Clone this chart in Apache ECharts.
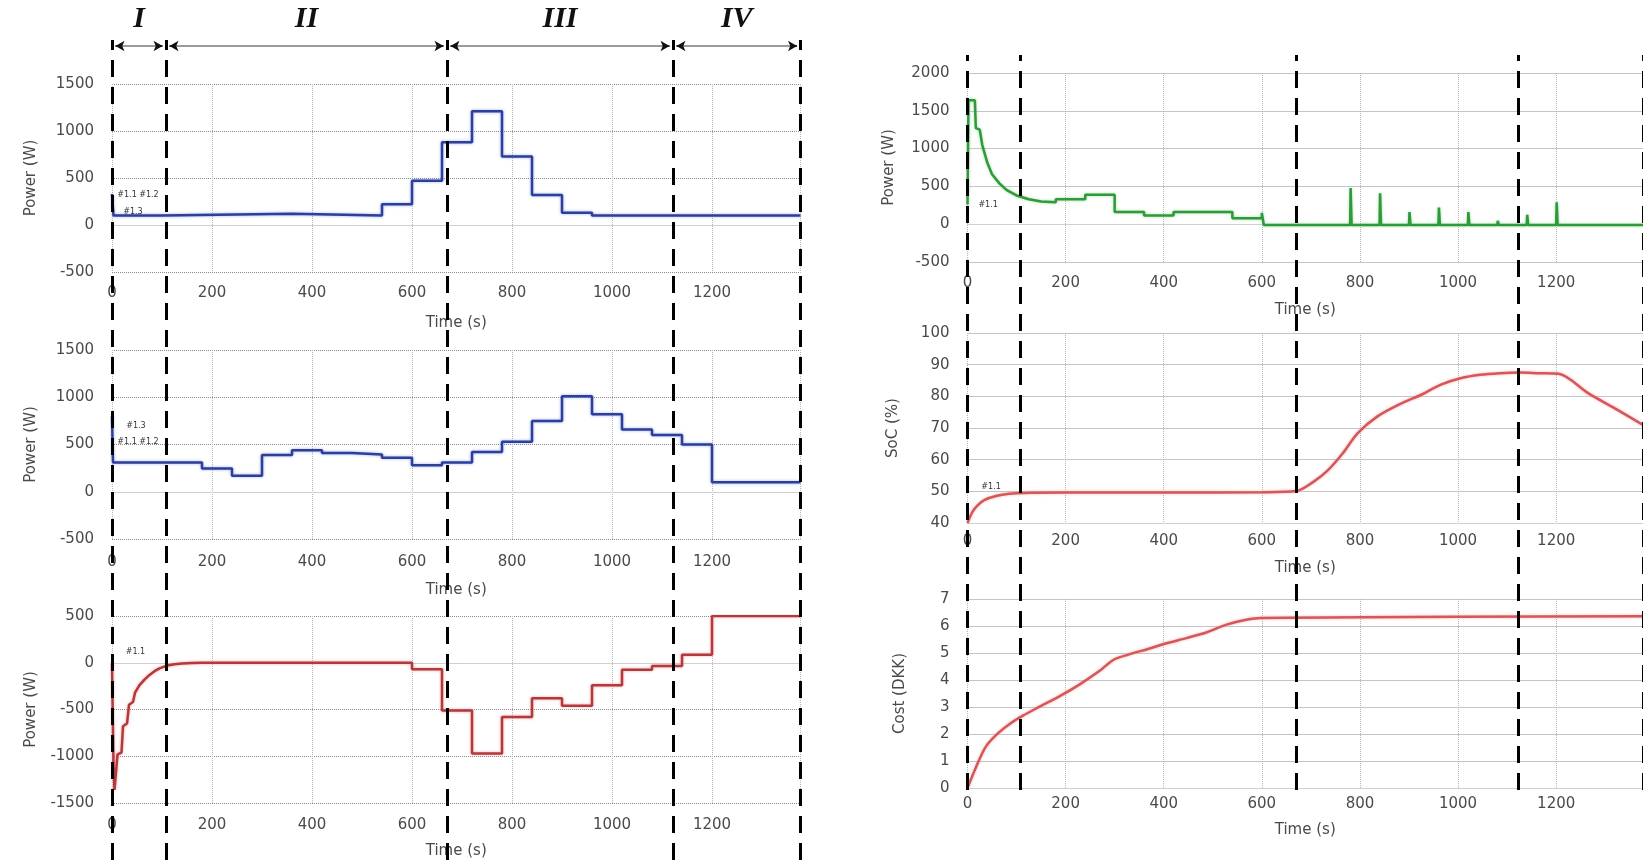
<!DOCTYPE html>
<html>
<head>
<meta charset="utf-8">
<script src="https://cdn.jsdelivr.net/npm/echarts@6/dist/echarts.min.js"></script>
<style>
html, body { margin: 0; padding: 0; background: #fff; }
#main { width: 1643px; height: 860px; }
</style>
</head>
<body>
<div id="main"></div>
<script>
var chart = echarts.init(document.getElementById('main'));

var T_MAX = 1377;
var phaseBounds = [0, 108, 670, 1122, 1377];
var phaseNames = ['I', 'II', 'III', 'IV'];

// power #1.3 (top left, blue, step)
var p13Time = [0, 3, 100, 360, 540, 600, 660, 720, 780, 840, 900, 960, 1377];
var p13Val  = [330, 100, 120, 100, 220, 470, 880, 1210, 730, 320, 130, 100, 100];

// power (middle left, blue, step)
var p2Time = [0, 2, 180, 240, 300, 360, 420, 480, 540, 600, 660, 720, 780, 840, 900, 960, 1020, 1080, 1140, 1200, 1377];
var p2Val  = [800, 310, 245, 170, 390, 440, 410, 395, 360, 280, 310, 420, 530, 750, 1010, 820, 660, 600, 500, 100, 100];

// power #1.1 (bottom left, red)
var p3Time = [0, 3, 5, 9, 11, 19, 22, 30, 34, 42, 46, 55, 65, 75, 85, 95, 110, 125, 140, 160, 180, 600, 600, 660, 660, 720, 720, 780, 780, 840, 840, 900, 900, 960, 960, 1020, 1020, 1080, 1080, 1140, 1140, 1200, 1200, 1377];
var p3Val  = [0, -1100, -1360, -1350, -980, -960, -680, -650, -450, -420, -320, -240, -180, -130, -90, -60, -30, -15, -8, -3, 0, 0, -70, -70, -510, -510, -970, -970, -580, -580, -380, -380, -460, -460, -240, -240, -75, -75, -35, -35, 85, 85, 500, 500];

// power #1.1 (top right, green)
var gTime = [0, 2, 15, 17, 25, 30, 40, 50, 65, 80, 100, 125, 150, 180, 180, 240, 240, 300, 300, 360, 360, 420, 420, 540, 540, 600, 600, 604,
             780, 781, 783, 840, 841, 843, 900, 901, 903, 960, 961, 963, 1020, 1021, 1023, 1080, 1081, 1083, 1140, 1141, 1143, 1200, 1201, 1203, 1377];
var gVal  = [260, 1640, 1640, 1270, 1250, 1050, 820, 660, 540, 450, 380, 330, 300, 290, 330, 330, 390, 390, 160, 160, 115, 115, 160, 160, 80, 80, 150, -10,
             -10, 480, -10, -10, 410, -10, -10, 160, -10, -10, 220, -10, -10, 160, -10, -10, 45, -10, -10, 125, -10, -10, 290, -10, -10];

// SoC (middle right)
var socTime = [0, 10, 20, 35, 60, 85, 115, 200, 400, 600, 670, 705, 735, 765, 795, 835, 885, 925, 965, 1005, 1045, 1085, 1125, 1165, 1205, 1265, 1325, 1377];
var socVal  = [40, 43.5, 45.5, 47.3, 48.6, 49.2, 49.5, 49.6, 49.6, 49.7, 50.1, 53, 56.7, 62, 68.3, 73.6, 77.8, 80.5, 83.7, 85.7, 86.8, 87.3, 87.5, 87.3, 87.1, 81, 75.7, 71];

// Cost (bottom right)
var costTime = [0, 18, 38, 63, 88, 113, 148, 188, 228, 268, 298, 328, 368, 408, 448, 488, 528, 568, 598, 800, 1000, 1377];
var costVal  = [0, 0.8, 1.55, 2.04, 2.4, 2.68, 3.02, 3.4, 3.83, 4.32, 4.75, 4.94, 5.15, 5.37, 5.56, 5.77, 6.05, 6.23, 6.3, 6.32, 6.34, 6.36];

function pairs(t, v) {
    return t.map(function (x, i) { return [x, v[i]]; });
}

var txt = '#4a4a4a';
var fontFam = 'DejaVu Sans';
var plain = function (v) { return String(v); };

var LEFT = 112, RIGHT = 967.5, W = 688.5;
var grids = [
    {left: LEFT, top: 84, width: W, height: 188},
    {left: LEFT, top: 350, width: W, height: 189},
    {left: LEFT, top: 616, width: W, height: 187},
    {left: RIGHT, top: 73, width: W, height: 189},
    {left: RIGHT, top: 333, width: W, height: 190},
    {left: RIGHT, top: 599, width: W, height: 189},
    {left: LEFT, top: 14, width: W, height: 32},
    {left: LEFT, top: 40, width: W, height: 820},
    {left: RIGHT, top: 55, width: W, height: 735}
];

function timeAxis(gi, margin, gap) {
    return {
        type: 'value', gridIndex: gi, min: 0, max: T_MAX, interval: 200,
        name: 'Time (s)', nameLocation: 'middle', nameGap: gap,
        nameTextStyle: {color: txt, fontSize: 15, fontFamily: fontFam},
        axisLabel: {showMaxLabel: false, margin: margin, color: txt, fontSize: 15, fontFamily: fontFam, formatter: plain},
        axisLine: {show: true, lineStyle: {color: '#d0d0d0'}},
        axisTick: {show: false},
        splitLine: {show: true, lineStyle: {type: 'dotted', color: '#b5b5b5'}}
    };
}

function valAxis(gi, min, max, interval, name, gap) {
    return {
        type: 'value', gridIndex: gi, min: min, max: max, interval: interval,
        name: name, nameLocation: 'middle', nameGap: gap,
        nameTextStyle: {color: txt, fontSize: 15, fontFamily: fontFam},
        axisLabel: {margin: 18, color: txt, fontSize: 15, fontFamily: fontFam, formatter: plain},
        axisLine: {show: false},
        axisTick: {show: false},
        splitLine: {show: true, lineStyle: {type: 'dotted', color: '#8a8a8a'}}
    };
}

function hiddenX(gi) {
    return {type: 'value', gridIndex: gi, min: 0, max: T_MAX, show: false};
}
function hiddenY(gi) {
    return {type: 'value', gridIndex: gi, min: 0, max: 1, show: false};
}

function note(t, v, text) {
    return {coord: [t, v], name: text};
}

function notes(list) {
    return {
        symbol: 'circle', symbolSize: 1,
        itemStyle: {color: 'rgba(0,0,0,0)'},
        label: {show: true, position: 'inside', formatter: '{b}', color: '#333', fontSize: 8, fontFamily: fontFam},
        data: list
    };
}

var blue = '#2f3f98';
var blueGlow = 'rgba(110,140,240,0.7)';
var darkRed = '#b23a3d';
var lightRed = '#d4575a';
var green = '#2f9a3a';

function lineSeries(gi, data, color, glow, extra) {
    var s = {
        type: 'line', xAxisIndex: gi, yAxisIndex: gi, data: data,
        showSymbol: false, silent: true,
        lineStyle: {color: color, width: 2.5, shadowColor: glow, shadowBlur: 3},
        z: 3
    };
    for (var k in extra) s[k] = extra[k];
    return s;
}

var segs = [];
var arrowHeads = [];
for (var i = 0; i < phaseNames.length; i++) {
    var a = phaseBounds[i] + 7, b = phaseBounds[i + 1] - 7;
    segs.push([{coord: [a, 0]}, {coord: [b, 0]}]);
    arrowHeads.push([{coord: [a + 10, 0]}, {coord: [a, 0]}]);
    arrowHeads.push([{coord: [b - 10, 0]}, {coord: [b, 0]}]);
}

var dashStyle = {color: '#000', width: 3, type: [17, 10]};

option = {
    backgroundColor: '#fff',
    animation: false,
    grid: grids,
    xAxis: [
        timeAxis(0, 14, 44), timeAxis(1, 16, 44), timeAxis(2, 15, 41),
        timeAxis(3, 14, 41), timeAxis(4, 11, 38), timeAxis(5, 9, 35),
        hiddenX(6), hiddenX(7), hiddenX(8)
    ],
    yAxis: [
        valAxis(0, -500, 1500, 500, 'Power (W)', 73),
        valAxis(1, -500, 1500, 500, 'Power (W)', 73),
        valAxis(2, -1500, 500, 500, 'Power (W)', 73),
        valAxis(3, -500, 2000, 500, 'Power (W)', 71),
        valAxis(4, 40, 100, 10, 'SoC (%)', 67),
        valAxis(5, 0, 7, 1, 'Cost (DKK)', 60),
        hiddenY(6), hiddenY(7), hiddenY(8)
    ],
    series: [
        lineSeries(0, pairs(p13Time, p13Val), blue, blueGlow, {
            step: 'end',
            markPoint: notes([note(52, 320, '#1.1 #1.2'), note(42, 135, '#1.3')])
        }),
        lineSeries(1, pairs(p2Time, p2Val), blue, blueGlow, {
            step: 'end',
            markPoint: notes([note(48, 700, '#1.3'), note(52, 525, '#1.1 #1.2')])
        }),
        lineSeries(2, pairs(p3Time, p3Val), darkRed, 'rgba(240,140,140,0.8)', {
            markPoint: notes([note(47, 115, '#1.1')])
        }),
        lineSeries(3, pairs(gTime, gVal), green, 'rgba(140,210,140,0.8)', {
            markPoint: notes([note(42, 255, '#1.1')])
        }),
        lineSeries(4, pairs(socTime, socVal), lightRed, 'rgba(245,160,160,0.8)', {
            smooth: 0.3,
            markPoint: notes([note(48, 51.5, '#1.1')])
        }),
        lineSeries(5, pairs(costTime, costVal), lightRed, 'rgba(245,160,160,0.8)', {
            smooth: 0.3
        }),
        {
            type: 'line', xAxisIndex: 6, yAxisIndex: 6, data: [], silent: true,
            markLine: {
                silent: true, symbol: ['none', 'none'], label: {show: false},
                lineStyle: {color: '#9a9a9a', width: 2, type: 'solid'},
                data: segs
            },
            markPoint: {
                symbol: 'circle', symbolSize: 1,
                itemStyle: {color: 'rgba(0,0,0,0)'},
                label: {
                    show: true, position: 'inside', formatter: '{b}', color: '#111',
                    fontFamily: 'Liberation Serif', fontStyle: 'italic', fontWeight: 'bold', fontSize: 30
                },
                data: phaseNames.map(function (n, i) {
                    return {coord: [(phaseBounds[i] + phaseBounds[i + 1]) / 2, 0.84], name: n};
                })
            }
        },
        {
            type: 'line', xAxisIndex: 6, yAxisIndex: 6, data: [], silent: true,
            markLine: {
                silent: true, symbol: ['none', 'arrow'], symbolSize: [8, 9], label: {show: false},
                lineStyle: {color: '#111', width: 1.5, type: 'solid'},
                data: arrowHeads
            }
        },
        {
            type: 'line', xAxisIndex: 7, yAxisIndex: 7, data: [], silent: true, z: 10,
            markLine: {
                silent: true, symbol: ['none', 'none'], label: {show: false},
                lineStyle: dashStyle,
                data: phaseBounds.map(function (b) { return {xAxis: b}; })
            }
        },
        {
            type: 'line', xAxisIndex: 8, yAxisIndex: 8, data: [], silent: true, z: 10,
            markLine: {
                silent: true, symbol: ['none', 'none'], label: {show: false},
                lineStyle: dashStyle,
                data: phaseBounds.map(function (b) { return {xAxis: b}; })
            }
        }
    ]
};

chart.setOption(option);
</script>
</body>
</html>
